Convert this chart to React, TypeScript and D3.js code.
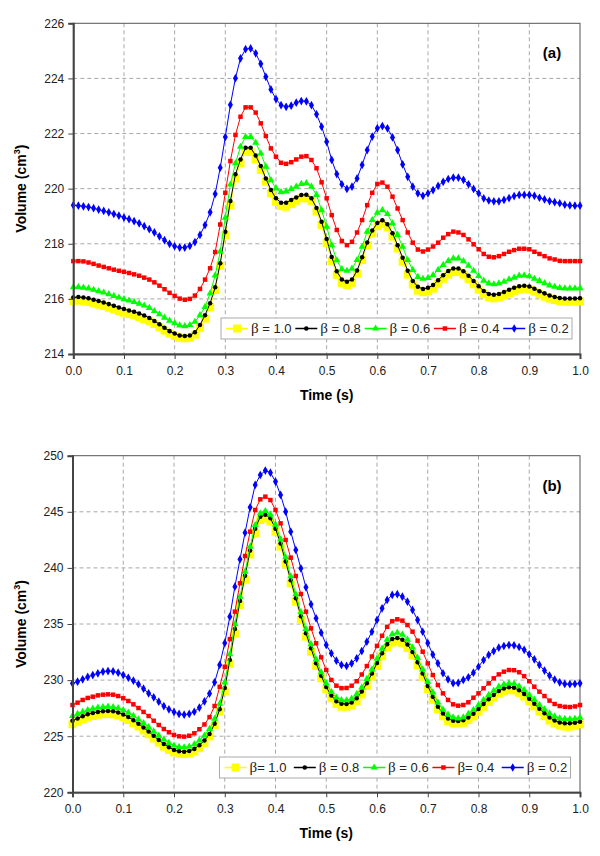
import React, { useEffect, useRef } from "react";
import * as d3 from "d3";

// sampling grid: one marker every 0.01 s
const time = d3.range(0, 101).map((i) => i / 100);

const xTicks = [0, 0.1, 0.2, 0.3, 0.4, 0.5, 0.6, 0.7, 0.8, 0.9, 1.0];
const yTicksA = [214, 216, 218, 220, 222, 224, 226];
const yTicksB = [220, 225, 230, 235, 240, 245, 250];

const legendA = ["β = 1.0", "β = 0.8", "β = 0.6", "β = 0.4", "β = 0.2"];
const legendB = ["β= 1.0", "β = 0.8", "β = 0.6", "β= 0.4", "β = 0.2"];

// panel (a)
const a10 = [
  215.92, 215.94, 215.92, 215.89, 215.84, 215.79, 215.74, 215.68, 215.62, 215.56,
  215.5, 215.45, 215.4, 215.34, 215.27, 215.19, 215.09, 214.97, 214.85, 214.74,
  214.65, 214.59, 214.57, 214.59, 214.7, 214.94, 215.28, 215.7, 216.32, 217.2,
  218.32, 219.4, 220.37, 220.92, 221.34, 221.34, 221.06, 220.68, 220.25, 219.83,
  219.52, 219.37, 219.34, 219.44, 219.56, 219.65, 219.65, 219.54, 219.17, 218.68,
  218.03, 217.38, 216.87, 216.58, 216.5, 216.58, 216.92, 217.41, 217.95, 218.38,
  218.64, 218.72, 218.59, 218.26, 217.83, 217.35, 216.88, 216.52, 216.3, 216.24,
  216.27, 216.37, 216.55, 216.73, 216.88, 216.97, 216.98, 216.88, 216.72, 216.53,
  216.34, 216.17, 216.06, 216.02, 216.05, 216.12, 216.2, 216.28, 216.34, 216.37,
  216.34, 216.26, 216.17, 216.08, 216.01, 215.96, 215.92, 215.9, 215.9, 215.9,
  215.91,
];
const a08 = [
  216.05, 216.07, 216.05, 216.02, 215.97, 215.92, 215.87, 215.81, 215.75, 215.69,
  215.63, 215.58, 215.53, 215.47, 215.4, 215.31, 215.2, 215.08, 214.95, 214.83,
  214.74, 214.67, 214.65, 214.67, 214.79, 215.05, 215.41, 215.84, 216.42, 217.29,
  218.44, 219.55, 220.52, 221.06, 221.48, 221.48, 221.2, 220.82, 220.37, 219.95,
  219.65, 219.49, 219.49, 219.59, 219.68, 219.77, 219.78, 219.65, 219.3, 218.8,
  218.17, 217.52, 217.0, 216.7, 216.62, 216.7, 217.03, 217.51, 218.05, 218.48,
  218.75, 218.85, 218.71, 218.38, 217.95, 217.49, 217.02, 216.65, 216.44, 216.36,
  216.4, 216.5, 216.68, 216.86, 217.01, 217.1, 217.1, 217.0, 216.84, 216.65,
  216.46, 216.29, 216.18, 216.15, 216.18, 216.25, 216.33, 216.4, 216.46, 216.48,
  216.45, 216.37, 216.28, 216.2, 216.12, 216.07, 216.03, 216.01, 216.01, 216.01,
  216.02,
];
const a06 = [
  216.42, 216.43, 216.41, 216.38, 216.33, 216.28, 216.23, 216.17, 216.11, 216.05,
  215.99, 215.94, 215.89, 215.83, 215.76, 215.67, 215.56, 215.44, 215.32, 215.21,
  215.12, 215.04, 215.01, 215.05, 215.17, 215.41, 215.71, 216.2, 216.85, 217.72,
  218.95, 220.15, 220.92, 221.52, 221.88, 221.88, 221.67, 221.28, 220.8, 220.31,
  220.01, 219.87, 219.9, 219.99, 220.07, 220.17, 220.2, 220.07, 219.77, 219.22,
  218.62, 217.95, 217.4, 217.08, 217.02, 217.1, 217.41, 217.89, 218.44, 218.86,
  219.13, 219.22, 219.08, 218.74, 218.32, 217.89, 217.41, 217.05, 216.8, 216.73,
  216.76, 216.86, 217.05, 217.23, 217.38, 217.47, 217.47, 217.37, 217.2, 217.02,
  216.83, 216.66, 216.56, 216.53, 216.56, 216.62, 216.71, 216.77, 216.84, 216.85,
  216.82, 216.73, 216.65, 216.57, 216.49, 216.44, 216.4, 216.38, 216.38, 216.38,
  216.39,
];
const a04 = [
  217.37, 217.37, 217.36, 217.32, 217.27, 217.21, 217.16, 217.11, 217.06, 217.02,
  216.98, 216.94, 216.89, 216.84, 216.77, 216.7, 216.6, 216.48, 216.35, 216.22,
  216.11, 216.01, 215.97, 216.0, 216.12, 216.36, 216.7, 217.11, 217.7, 218.7,
  219.85, 221.0, 221.95, 222.61, 222.95, 222.95, 222.76, 222.37, 221.91, 221.46,
  221.16, 220.94, 220.9, 220.96, 221.06, 221.16, 221.18, 221.04, 220.74, 220.23,
  219.65, 219.04, 218.5, 218.1, 217.95, 218.07, 218.41, 218.86, 219.4, 219.85,
  220.17, 220.22, 220.07, 219.71, 219.28, 218.86, 218.41, 218.04, 217.79, 217.72,
  217.79, 217.9, 218.04, 218.22, 218.35, 218.44, 218.41, 218.32, 218.16, 217.98,
  217.8, 217.63, 217.53, 217.51, 217.55, 217.63, 217.71, 217.77, 217.82, 217.82,
  217.8, 217.71, 217.63, 217.55, 217.47, 217.43, 217.38, 217.37, 217.37, 217.37,
  217.37,
];
const a02 = [
  219.4, 219.38, 219.36, 219.33, 219.29, 219.24, 219.19, 219.14, 219.08, 219.02,
  218.95, 218.89, 218.82, 218.74, 218.64, 218.53, 218.41, 218.27, 218.13, 218.0,
  217.91, 217.86, 217.86, 217.92, 218.06, 218.32, 218.68, 219.14, 219.81, 220.76,
  221.87, 223.04, 224.01, 224.73, 225.06, 225.09, 224.91, 224.53, 224.06, 223.6,
  223.25, 223.03, 222.97, 223.01, 223.12, 223.18, 223.17, 223.03, 222.7, 222.25,
  221.7, 221.04, 220.53, 220.16, 219.99, 220.07, 220.37, 220.86, 221.4, 221.89,
  222.19, 222.27, 222.19, 221.86, 221.4, 220.88, 220.43, 220.07, 219.83, 219.74,
  219.83, 219.95, 220.1, 220.25, 220.35, 220.4, 220.4, 220.32, 220.16, 219.99,
  219.83, 219.65, 219.57, 219.54, 219.54, 219.59, 219.66, 219.73, 219.77, 219.77,
  219.77, 219.74, 219.67, 219.61, 219.55, 219.51, 219.47, 219.42, 219.39, 219.38,
  219.38,
];

// panel (b)
const b10 = [
  226.06, 226.28, 226.5, 226.68, 226.8, 226.9, 226.96, 226.98, 226.95, 226.85,
  226.67, 226.44, 226.17, 225.86, 225.52, 225.17, 224.8, 224.43, 224.08, 223.78,
  223.56, 223.44, 223.41, 223.46, 223.64, 223.96, 224.38, 224.98, 226.0, 227.2,
  229.0, 231.45, 234.15, 236.7, 238.95, 241.2, 243.1, 244.27, 244.42, 244.12,
  243.23, 241.89, 240.32, 238.63, 236.99, 235.36, 233.87, 232.53, 231.26, 230.16,
  229.18, 228.38, 227.87, 227.63, 227.63, 227.76, 228.14, 228.72, 229.48, 230.32,
  231.25, 232.12, 232.9, 233.34, 233.44, 233.28, 232.86, 232.2, 231.3, 230.3,
  229.2, 228.25, 227.38, 226.78, 226.36, 226.16, 226.13, 226.2, 226.43, 226.76,
  227.18, 227.62, 228.05, 228.43, 228.78, 229.0, 229.12, 229.08, 228.86, 228.53,
  228.1, 227.66, 227.2, 226.78, 226.4, 226.13, 225.95, 225.86, 225.85, 225.92,
  226.06,
];
const b08 = [
  226.38, 226.58, 226.78, 226.95, 227.07, 227.16, 227.22, 227.25, 227.22, 227.12,
  226.94, 226.71, 226.43, 226.11, 225.77, 225.41, 225.03, 224.66, 224.31, 224.01,
  223.78, 223.65, 223.62, 223.68, 223.87, 224.2, 224.62, 225.2, 226.1, 227.4,
  229.3, 231.8, 234.55, 237.05, 239.3, 241.55, 243.5, 244.55, 244.73, 244.42,
  243.5, 242.18, 240.58, 238.9, 237.3, 235.7, 234.18, 232.83, 231.5, 230.38,
  229.38, 228.62, 228.12, 227.89, 227.87, 228.0, 228.38, 228.98, 229.73, 230.58,
  231.52, 232.4, 233.2, 233.66, 233.76, 233.6, 233.18, 232.5, 231.6, 230.58,
  229.48, 228.52, 227.62, 227.02, 226.58, 226.38, 226.36, 226.42, 226.66, 227.0,
  227.42, 227.86, 228.3, 228.68, 229.03, 229.25, 229.36, 229.32, 229.1, 228.77,
  228.33, 227.9, 227.45, 227.04, 226.66, 226.4, 226.22, 226.15, 226.15, 226.2,
  226.29,
];
const b06 = [
  226.8, 226.98, 227.17, 227.33, 227.45, 227.54, 227.6, 227.63, 227.6, 227.5,
  227.32, 227.1, 226.82, 226.5, 226.16, 225.8, 225.42, 225.05, 224.7, 224.4,
  224.17, 224.04, 224.01, 224.08, 224.28, 224.62, 225.05, 225.65, 226.55, 227.9,
  229.8, 232.3, 235.0, 237.44, 239.66, 241.89, 243.82, 244.86, 245.07, 244.75,
  243.85, 242.55, 240.95, 239.25, 237.65, 236.05, 234.55, 233.2, 231.85, 230.7,
  229.7, 228.95, 228.45, 228.22, 228.2, 228.35, 228.75, 229.35, 230.1, 230.95,
  231.9, 232.8, 233.6, 234.1, 234.23, 234.05, 233.6, 232.9, 231.98, 230.95,
  229.85, 228.9, 228.0, 227.38, 226.92, 226.68, 226.59, 226.68, 226.98, 227.34,
  227.78, 228.23, 228.67, 229.06, 229.41, 229.62, 229.71, 229.67, 229.45, 229.12,
  228.68, 228.25, 227.8, 227.4, 227.03, 226.77, 226.6, 226.54, 226.53, 226.57,
  226.66,
];
const b04 = [
  227.78, 227.99, 228.23, 228.41, 228.52, 228.64, 228.7, 228.73, 228.7, 228.58,
  228.38, 228.14, 227.84, 227.51, 227.16, 226.8, 226.38, 226.0, 225.64, 225.35,
  225.11, 224.99, 224.96, 225.04, 225.26, 225.62, 226.05, 226.7, 227.69, 229.4,
  231.19, 233.65, 236.1, 238.63, 241.06, 243.23, 245.16, 246.11, 246.35, 246.05,
  245.16, 243.97, 242.49, 240.91, 239.28, 237.67, 236.1, 234.61, 233.28, 232.03,
  230.9, 230.01, 229.5, 229.28, 229.3, 229.5, 229.9, 230.5, 231.25, 232.1,
  233.05, 233.95, 234.75, 235.25, 235.42, 235.3, 234.91, 234.32, 233.51, 232.53,
  231.49, 230.45, 229.56, 228.82, 228.23, 227.84, 227.72, 227.78, 228.02, 228.43,
  228.82, 229.27, 229.71, 230.16, 230.51, 230.75, 230.9, 230.88, 230.7, 230.35,
  229.9, 229.41, 228.97, 228.58, 228.17, 227.87, 227.69, 227.62, 227.6, 227.65,
  227.78,
];
const b02 = [
  229.71, 229.86, 230.07, 230.28, 230.45, 230.6, 230.75, 230.81, 230.78, 230.66,
  230.45, 230.21, 229.95, 229.63, 229.23, 228.82, 228.47, 228.08, 227.69, 227.4,
  227.16, 226.98, 226.92, 226.98, 227.18, 227.55, 228.1, 228.8, 229.8, 231.35,
  233.3, 235.65, 238.33, 240.76, 243.14, 245.4, 247.39, 248.28, 248.67, 248.49,
  247.69, 246.5, 245.01, 243.23, 241.6, 239.96, 238.27, 236.75, 235.51, 234.23,
  233.13, 232.39, 231.73, 231.35, 231.26, 231.5, 231.94, 232.59, 233.42, 234.31,
  235.36, 236.4, 237.14, 237.59, 237.66, 237.43, 236.99, 236.25, 235.36, 234.31,
  233.3, 232.28, 231.5, 230.61, 230.07, 229.73, 229.75, 230.01, 230.25, 230.66,
  231.19, 231.79, 232.24, 232.59, 232.89, 233.04, 233.12, 233.1, 232.95, 232.7,
  232.3, 231.85, 231.35, 230.85, 230.4, 230.05, 229.8, 229.66, 229.64, 229.66,
  229.71,
];

const styles = [
  { color: "#ffff00", symbol: d3.symbolSquare, size: 64 },
  { color: "#000000", symbol: d3.symbolCircle, size: 16 },
  { color: "#00ff00", symbol: d3.symbolTriangle, size: 22 },
  { color: "#ff0000", symbol: d3.symbolSquare, size: 20 },
  { color: "#0000ff", symbol: d3.symbolDiamond, size: 22 },
];

const FONT = "'Liberation Sans', Arial, sans-serif";

function drawPanel(svg, p) {
  const x = d3.scaleLinear().domain([0, 1]).range([p.left, p.right]);
  const y = d3.scaleLinear().domain(p.yDomain).range([p.bottom, p.top]);
  const g = svg.append("g");

  // grid
  g.selectAll(".vg")
    .data(xTicks.slice(1, -1))
    .enter()
    .append("line")
    .attr("x1", (d) => x(d))
    .attr("x2", (d) => x(d))
    .attr("y1", p.top)
    .attr("y2", p.bottom)
    .attr("stroke", "#a8a8a8")
    .attr("stroke-dasharray", "4,3");
  g.selectAll(".hg")
    .data(p.yTicks.slice(1, -1))
    .enter()
    .append("line")
    .attr("x1", p.left)
    .attr("x2", p.right)
    .attr("y1", (d) => y(d))
    .attr("y2", (d) => y(d))
    .attr("stroke", "#a8a8a8")
    .attr("stroke-dasharray", "4,3");

  g.append("rect")
    .attr("x", p.left)
    .attr("y", p.top)
    .attr("width", p.right - p.left)
    .attr("height", p.bottom - p.top)
    .attr("fill", "none")
    .attr("stroke", "#555");

  // series
  const line = d3
    .line()
    .x((d, i) => x(time[i]))
    .y((d) => y(d));
  p.series.forEach((vals, k) => {
    const st = styles[k];
    g.append("path")
      .attr("d", line(vals))
      .attr("fill", "none")
      .attr("stroke", st.color)
      .attr("stroke-width", 1);
    const sym = d3.symbol().type(st.symbol).size(st.size);
    g.selectAll(".m" + k)
      .data(vals)
      .enter()
      .append("path")
      .attr("d", sym)
      .attr("transform", (d, i) => `translate(${x(time[i])},${y(d)})`)
      .attr("fill", st.color);
  });

  // axes
  const xAxis = d3
    .axisBottom(x)
    .tickValues(xTicks)
    .tickSize(5)
    .tickFormat(d3.format(".1f"));
  const yAxis = d3.axisLeft(y).tickValues(p.yTicks).tickSize(5).tickFormat(d3.format("d"));
  const gx = g.append("g").attr("transform", `translate(0,${p.bottom})`).call(xAxis);
  const gy = g.append("g").attr("transform", `translate(${p.left},0)`).call(yAxis);
  [gx, gy].forEach((ax) => {
    ax.select(".domain").attr("stroke", "#444").attr("stroke-width", 2);
    ax.selectAll(".tick line").attr("stroke", "#444");
    ax.selectAll(".tick text")
      .attr("font-family", FONT)
      .attr("font-size", 12)
      .attr("fill", "#222");
  });
  gx.selectAll(".tick text").attr("dy", "1.05em");
  gy.selectAll(".tick text").attr("x", -9);

  // titles
  svg.append("text")
    .attr("x", (p.left + p.right) / 2)
    .attr("y", p.bottom + 46)
    .attr("text-anchor", "middle")
    .attr("font-family", FONT)
    .attr("font-weight", "bold")
    .attr("font-size", 14)
    .text("Time (s)");
  const yt = svg
    .append("text")
    .attr("transform", `translate(26,${(p.top + p.bottom) / 2}) rotate(-90)`)
    .attr("text-anchor", "middle")
    .attr("font-family", FONT)
    .attr("font-weight", "bold")
    .attr("font-size", 14);
  yt.append("tspan").text("Volume (cm");
  yt.append("tspan").attr("font-size", 9).attr("dy", -6).text("3");
  yt.append("tspan").attr("dy", 6).text(")");

  svg.append("text")
    .attr("x", p.right - 28)
    .attr("y", p.top + 35)
    .attr("text-anchor", "middle")
    .attr("font-family", FONT)
    .attr("font-weight", "bold")
    .attr("font-size", 15)
    .text(p.label);

  // legend
  const lg = svg.append("g");
  lg.append("rect")
    .attr("x", p.legendX)
    .attr("y", p.legendY)
    .attr("width", 351)
    .attr("height", 21)
    .attr("fill", "#fff")
    .attr("stroke", "#aaa");
  p.legend.forEach((lab, k) => {
    const st = styles[k];
    const x0 = p.legendX + 5 + k * 69.3;
    const cy = p.legendY + 10.5;
    lg.append("line")
      .attr("x1", x0)
      .attr("x2", x0 + 22)
      .attr("y1", cy)
      .attr("y2", cy)
      .attr("stroke", st.color)
      .attr("stroke-width", 1.5);
    lg.append("path")
      .attr("d", d3.symbol().type(st.symbol).size(st.size)())
      .attr("transform", `translate(${x0 + 11},${cy})`)
      .attr("fill", st.color);
    const t = lg
      .append("text")
      .attr("x", x0 + 25)
      .attr("y", cy + 4.5)
      .attr("font-family", FONT)
      .attr("font-size", 13)
      .attr("fill", "#222");
    t.append("tspan").attr("font-family", "'Liberation Serif', 'DejaVu Serif', serif").attr("font-size", 15).text(lab[0]);
    t.append("tspan").text(lab.slice(1));
  });
}

export default function App() {
  const ref = useRef(null);

  useEffect(() => {
    const svg = d3.select(ref.current);
    svg.selectAll("*").remove();
    drawPanel(svg, {
      left: 73.3,
      right: 580,
      top: 23.3,
      bottom: 354,
      yDomain: [214, 226],
      yTicks: yTicksA,
      series: [a10, a08, a06, a04, a02],
      legend: legendA,
      label: "(a)",
      legendX: 221,
      legendY: 318,
    });
    drawPanel(svg, {
      left: 72.5,
      right: 580,
      top: 455.7,
      bottom: 792.3,
      yDomain: [220, 250],
      yTicks: yTicksB,
      series: [b10, b08, b06, b04, b02],
      legend: legendB,
      label: "(b)",
      legendX: 219.5,
      legendY: 757,
    });
  }, []);

  return (
    <svg
      ref={ref}
      width={600}
      height={856}
      style={{ position: "absolute", left: 0, top: 0, background: "#fff" }}
    />
  );
}
